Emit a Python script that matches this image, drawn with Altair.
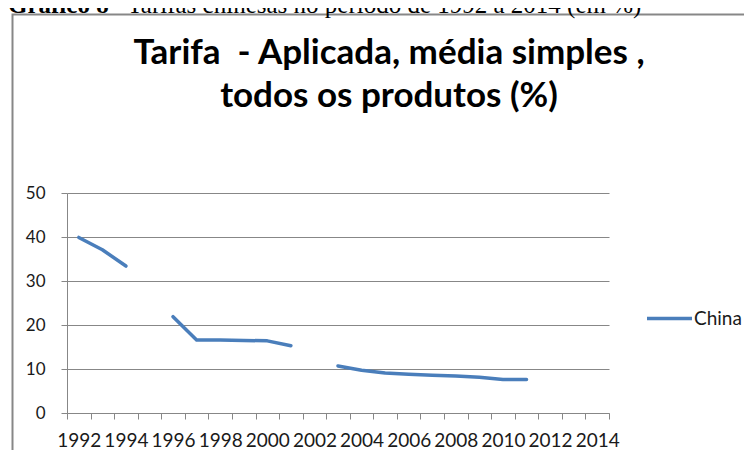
import altair as alt
import pandas as pd

# ---- data ----
years = list(range(1992, 2015))
tariff = [39.9, 37.1, 33.4, None, 21.9, 16.6, 16.6, 16.5, 16.4, 15.3, None,
          10.7, 9.7, 9.1, 8.8, 8.6, 8.4, 8.1, 7.6, 7.6, None, None, None]
series_name = "China"
y_ticks = [0, 10, 20, 30, 40, 50]

title_lines = ["Tarifa \u00a0- Aplicada, média simples ,", "todos os produtos (%)"]
caption_bold = "Gráfico 8"
caption_rest = " – Tarifas chinesas no período de 1992 a 2014 (em %)"

# ---- table ----
df = pd.DataFrame({"year": years, "tariff": tariff})
df["series"] = series_name
df["segment"] = df["tariff"].isna().cumsum()
df = df.dropna(subset=["tariff"])

GRAY = "#878787"
TXT = "#1a1a1a"
BLUE = "#4A7EBB"
FONT = "Lato"

base_x = alt.X(
    "year:O",
    scale=alt.Scale(type="band", domain=years, paddingInner=0, paddingOuter=0),
    axis=alt.Axis(
        title=None, tickBand="extent", labelAngle=0, labelOverlap=False,
        labelExpr="datum.value % 2 == 0 ? datum.label : ''",
        labelFont=FONT, labelFontSize=19, labelColor=TXT, labelPadding=12,
        tickSize=6, tickColor=GRAY, domainColor=GRAY, grid=False,
    ),
)
base_y = alt.Y(
    "tariff:Q",
    scale=alt.Scale(domain=[0, 50], nice=False),
    axis=alt.Axis(
        title=None, values=y_ticks, grid=True, gridColor=GRAY,
        domainColor=GRAY, tickColor=GRAY, tickSize=6, labelPadding=16,
        labelFont=FONT, labelFontSize=17, labelColor=TXT,
    ),
)

line = alt.Chart(df).mark_line(
    strokeWidth=3.5, strokeCap="round", strokeJoin="round"
).encode(
    x=base_x,
    y=base_y,
    detail="segment:N",
    color=alt.Color(
        "series:N",
        scale=alt.Scale(range=[BLUE]),
        legend=alt.Legend(
            title=None, orient="none", legendX=578, legendY=101,
            symbolType="stroke", symbolSize=2025, symbolStrokeWidth=3.5,
            labelFont=FONT, labelFontSize=19, labelColor=TXT,
            labelOffset=0, padding=0,
        ),
    ),
)

one = pd.DataFrame({"k": [0]})

frame = alt.Chart(one).mark_rect(
    filled=False, stroke=GRAY, strokeWidth=2
).encode(
    x=alt.value(-54.5), x2=alt.value(900),
    y=alt.value(-178.5), y2=alt.value(600),
)

title = alt.Chart(one).mark_text(
    font=FONT, fontSize=35, fontWeight="bold", color="#000",
    align="center", baseline="alphabetic", lineHeight=43,
).encode(
    x=alt.value(322), y=alt.value(-129), text=alt.value(title_lines),
)

cap1 = alt.Chart(one).mark_text(
    font="Liberation Serif", fontSize=25, fontWeight="bold", color="#000",
    align="left", baseline="alphabetic",
).encode(x=alt.value(-59), y=alt.value(-180.5), text=alt.value(caption_bold))

cap2 = alt.Chart(one).mark_text(
    font="Liberation Serif", fontSize=25, color="#000",
    align="left", baseline="alphabetic",
).encode(x=alt.value(42), y=alt.value(-180.5), text=alt.value(caption_rest))

chart = alt.layer(frame, line, title, cap1, cap2).properties(
    width=542, height=220,
    autosize=alt.AutoSizeParams(type="none"),
    padding={"left": 59, "top": 185, "right": 135, "bottom": 37},
).configure_view(strokeWidth=0)

chart.save("out.html", embed_options={"renderer": "svg", "actions": False})
